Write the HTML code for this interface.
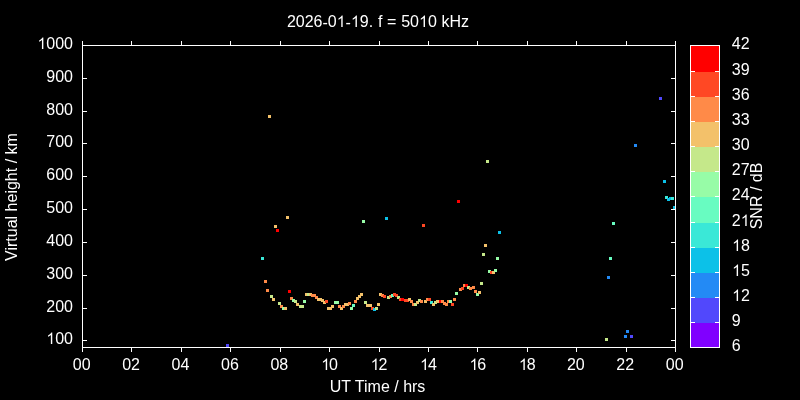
<!DOCTYPE html>
<html><head><meta charset="utf-8"><title>plot</title>
<style>
html,body{margin:0;padding:0;background:#000;}
body{width:800px;height:400px;overflow:hidden;position:relative;font-family:"Liberation Sans",sans-serif;color:#fff;font-size:16px;line-height:1;}
.t{position:absolute;white-space:nowrap;}
.yl{position:absolute;text-align:right;width:80px;white-space:nowrap;}
.xl{position:absolute;text-align:center;width:60px;white-space:nowrap;}
.cl{position:absolute;white-space:nowrap;}
svg.bg{position:absolute;left:0;top:0;}
.h{visibility:hidden;}
.hy{position:relative;top:1px;}
</style></head><body>
<svg class="bg" width="800" height="400" viewBox="0 0 800 400" shape-rendering="crispEdges">
<rect x="0" y="0" width="800" height="400" fill="#000"/>
<g>
<rect x="226" y="344" width="3" height="3" fill="#5148fc"/>
<rect x="261" y="257" width="3" height="3" fill="#3ae8d7"/>
<rect x="264" y="280" width="3" height="3" fill="#ff8a48"/>
<rect x="266" y="289" width="3" height="3" fill="#ff8a48"/>
<rect x="268" y="115" width="3" height="3" fill="#f3c16a"/>
<rect x="270" y="295" width="3" height="3" fill="#c5e88a"/>
<rect x="272" y="298" width="3" height="3" fill="#f3c16a"/>
<rect x="274" y="225" width="3" height="3" fill="#f3c16a"/>
<rect x="276" y="229" width="3" height="3" fill="#ff0000"/>
<rect x="278" y="302" width="3" height="3" fill="#c5e88a"/>
<rect x="280" y="305" width="3" height="3" fill="#ff8a48"/>
<rect x="282" y="307" width="3" height="3" fill="#97fca7"/>
<rect x="284" y="307" width="3" height="3" fill="#f3c16a"/>
<rect x="286" y="216" width="3" height="3" fill="#f3c16a"/>
<rect x="288" y="290" width="3" height="3" fill="#ff0000"/>
<rect x="290" y="297" width="3" height="3" fill="#ff8a48"/>
<rect x="292" y="299" width="3" height="3" fill="#97fca7"/>
<rect x="294" y="300" width="3" height="3" fill="#c5e88a"/>
<rect x="296" y="303" width="3" height="3" fill="#f3c16a"/>
<rect x="299" y="305" width="3" height="3" fill="#c5e88a"/>
<rect x="301" y="305" width="3" height="3" fill="#c5e88a"/>
<rect x="303" y="300" width="3" height="3" fill="#97fca7"/>
<rect x="305" y="293" width="3" height="3" fill="#f3c16a"/>
<rect x="307" y="293" width="3" height="3" fill="#c5e88a"/>
<rect x="309" y="293" width="3" height="3" fill="#f3c16a"/>
<rect x="311" y="294" width="3" height="3" fill="#ff8a48"/>
<rect x="313" y="294" width="3" height="3" fill="#ff8a48"/>
<rect x="315" y="296" width="3" height="3" fill="#ff8a48"/>
<rect x="317" y="298" width="3" height="3" fill="#f3c16a"/>
<rect x="319" y="298" width="3" height="3" fill="#f3c16a"/>
<rect x="321" y="299" width="3" height="3" fill="#f3c16a"/>
<rect x="323" y="301" width="3" height="3" fill="#f3c16a"/>
<rect x="325" y="300" width="3" height="3" fill="#ff4824"/>
<rect x="327" y="307" width="3" height="3" fill="#f3c16a"/>
<rect x="329" y="307" width="3" height="3" fill="#f3c16a"/>
<rect x="331" y="305" width="3" height="3" fill="#f3c16a"/>
<rect x="334" y="301" width="3" height="3" fill="#97fca7"/>
<rect x="336" y="301" width="3" height="3" fill="#97fca7"/>
<rect x="338" y="305" width="3" height="3" fill="#ff8a48"/>
<rect x="340" y="307" width="3" height="3" fill="#f3c16a"/>
<rect x="342" y="305" width="3" height="3" fill="#ff8a48"/>
<rect x="344" y="303" width="3" height="3" fill="#f3c16a"/>
<rect x="346" y="303" width="3" height="3" fill="#f3c16a"/>
<rect x="348" y="302" width="3" height="3" fill="#ff8a48"/>
<rect x="350" y="307" width="3" height="3" fill="#97fca7"/>
<rect x="352" y="304" width="3" height="3" fill="#68fcc1"/>
<rect x="354" y="300" width="3" height="3" fill="#ff8a48"/>
<rect x="356" y="297" width="3" height="3" fill="#f3c16a"/>
<rect x="358" y="295" width="3" height="3" fill="#f3c16a"/>
<rect x="360" y="293" width="3" height="3" fill="#f3c16a"/>
<rect x="362" y="220" width="3" height="3" fill="#97fca7"/>
<rect x="364" y="301" width="3" height="3" fill="#c5e88a"/>
<rect x="366" y="304" width="3" height="3" fill="#f3c16a"/>
<rect x="369" y="304" width="3" height="3" fill="#f3c16a"/>
<rect x="371" y="307" width="3" height="3" fill="#ff4824"/>
<rect x="373" y="308" width="3" height="3" fill="#0cc1e8"/>
<rect x="375" y="307" width="3" height="3" fill="#c5e88a"/>
<rect x="377" y="303" width="3" height="3" fill="#f3c16a"/>
<rect x="379" y="293" width="3" height="3" fill="#f3c16a"/>
<rect x="381" y="294" width="3" height="3" fill="#ff8a48"/>
<rect x="383" y="295" width="3" height="3" fill="#ff4824"/>
<rect x="385" y="217" width="3" height="3" fill="#0cc1e8"/>
<rect x="387" y="296" width="3" height="3" fill="#c5e88a"/>
<rect x="389" y="295" width="3" height="3" fill="#ff8a48"/>
<rect x="391" y="294" width="3" height="3" fill="#68fcc1"/>
<rect x="393" y="293" width="3" height="3" fill="#ff4824"/>
<rect x="395" y="294" width="3" height="3" fill="#ff4824"/>
<rect x="397" y="296" width="3" height="3" fill="#c5e88a"/>
<rect x="399" y="298" width="3" height="3" fill="#ff4824"/>
<rect x="401" y="298" width="3" height="3" fill="#ff0000"/>
<rect x="404" y="299" width="3" height="3" fill="#ff4824"/>
<rect x="406" y="299" width="3" height="3" fill="#ff4824"/>
<rect x="408" y="298" width="3" height="3" fill="#f3c16a"/>
<rect x="410" y="300" width="3" height="3" fill="#ff8a48"/>
<rect x="412" y="303" width="3" height="3" fill="#ff8a48"/>
<rect x="414" y="303" width="3" height="3" fill="#c5e88a"/>
<rect x="416" y="301" width="3" height="3" fill="#f3c16a"/>
<rect x="418" y="299" width="3" height="3" fill="#c5e88a"/>
<rect x="420" y="300" width="3" height="3" fill="#ff8a48"/>
<rect x="422" y="224" width="3" height="3" fill="#ff4824"/>
<rect x="424" y="300" width="3" height="3" fill="#f3c16a"/>
<rect x="426" y="298" width="3" height="3" fill="#ff8a48"/>
<rect x="428" y="298" width="3" height="3" fill="#ff4824"/>
<rect x="430" y="301" width="3" height="3" fill="#3ae8d7"/>
<rect x="432" y="303" width="3" height="3" fill="#f3c16a"/>
<rect x="434" y="301" width="3" height="3" fill="#c5e88a"/>
<rect x="436" y="300" width="3" height="3" fill="#f3c16a"/>
<rect x="439" y="300" width="3" height="3" fill="#ff0000"/>
<rect x="441" y="300" width="3" height="3" fill="#ff8a48"/>
<rect x="443" y="302" width="3" height="3" fill="#ff8a48"/>
<rect x="445" y="303" width="3" height="3" fill="#ff8a48"/>
<rect x="447" y="300" width="3" height="3" fill="#ff8a48"/>
<rect x="449" y="300" width="3" height="3" fill="#97fca7"/>
<rect x="451" y="303" width="3" height="3" fill="#ff4824"/>
<rect x="453" y="298" width="3" height="3" fill="#ff8a48"/>
<rect x="455" y="292" width="3" height="3" fill="#97fca7"/>
<rect x="457" y="200" width="3" height="3" fill="#ff0000"/>
<rect x="459" y="288" width="3" height="3" fill="#ff8a48"/>
<rect x="461" y="287" width="3" height="3" fill="#ff4824"/>
<rect x="463" y="284" width="3" height="3" fill="#ff8a48"/>
<rect x="465" y="284" width="3" height="3" fill="#ff0000"/>
<rect x="467" y="286" width="3" height="3" fill="#c5e88a"/>
<rect x="469" y="287" width="3" height="3" fill="#ff8a48"/>
<rect x="472" y="286" width="3" height="3" fill="#ff8a48"/>
<rect x="474" y="290" width="3" height="3" fill="#ff8a48"/>
<rect x="476" y="293" width="3" height="3" fill="#97fca7"/>
<rect x="478" y="291" width="3" height="3" fill="#f3c16a"/>
<rect x="480" y="282" width="3" height="3" fill="#c5e88a"/>
<rect x="482" y="253" width="3" height="3" fill="#c5e88a"/>
<rect x="484" y="244" width="3" height="3" fill="#f3c16a"/>
<rect x="486" y="160" width="3" height="3" fill="#c5e88a"/>
<rect x="488" y="270" width="3" height="3" fill="#97fca7"/>
<rect x="490" y="271" width="3" height="3" fill="#ff4824"/>
<rect x="492" y="271" width="3" height="3" fill="#f3c16a"/>
<rect x="494" y="269" width="3" height="3" fill="#97fca7"/>
<rect x="496" y="257" width="3" height="3" fill="#97fca7"/>
<rect x="498" y="231" width="3" height="3" fill="#0cc1e8"/>
<rect x="605" y="338" width="3" height="3" fill="#c5e88a"/>
<rect x="607" y="276" width="3" height="3" fill="#238af5"/>
<rect x="609" y="257" width="3" height="3" fill="#68fcc1"/>
<rect x="612" y="222" width="3" height="3" fill="#68fcc1"/>
<rect x="624" y="335" width="3" height="3" fill="#238af5"/>
<rect x="626" y="330" width="3" height="3" fill="#238af5"/>
<rect x="630" y="335" width="3" height="3" fill="#5148fc"/>
<rect x="634" y="144" width="3" height="3" fill="#238af5"/>
<rect x="659" y="97" width="3" height="3" fill="#5148fc"/>
<rect x="663" y="180" width="3" height="3" fill="#0cc1e8"/>
<rect x="665" y="196" width="3" height="3" fill="#3ae8d7"/>
<rect x="667" y="198" width="3" height="3" fill="#0cc1e8"/>
<rect x="669" y="197" width="3" height="3" fill="#0cc1e8"/>
<rect x="671" y="197" width="3" height="3" fill="#3ae8d7"/>
<rect x="673" y="206" width="3" height="3" fill="#0cc1e8"/>
</g>
<g>
<rect x="690" y="323" width="30" height="25" fill="#8000ff"/>
<rect x="690" y="298" width="30" height="25" fill="#5148fc"/>
<rect x="690" y="273" width="30" height="25" fill="#238af5"/>
<rect x="690" y="248" width="30" height="25" fill="#0cc1e8"/>
<rect x="690" y="223" width="30" height="25" fill="#3ae8d7"/>
<rect x="690" y="197" width="30" height="26" fill="#68fcc1"/>
<rect x="690" y="172" width="30" height="25" fill="#97fca7"/>
<rect x="690" y="147" width="30" height="25" fill="#c5e88a"/>
<rect x="690" y="122" width="30" height="25" fill="#f3c16a"/>
<rect x="690" y="97" width="30" height="25" fill="#ff8a48"/>
<rect x="690" y="72" width="30" height="25" fill="#ff4824"/>
<rect x="690" y="46" width="30" height="26" fill="#ff0000"/>
</g>
<g fill="#fff">
<rect x="690" y="45" width="30" height="1"/>
<rect x="690" y="347" width="30" height="1"/>
<rect x="690" y="45" width="1" height="303"/>
<rect x="719" y="45" width="1" height="303"/>
<rect x="691" y="347" width="4" height="1"/>
<rect x="715" y="347" width="4" height="1"/>
<rect x="691" y="322" width="4" height="1"/>
<rect x="715" y="322" width="4" height="1"/>
<rect x="691" y="297" width="4" height="1"/>
<rect x="715" y="297" width="4" height="1"/>
<rect x="691" y="272" width="4" height="1"/>
<rect x="715" y="272" width="4" height="1"/>
<rect x="691" y="247" width="4" height="1"/>
<rect x="715" y="247" width="4" height="1"/>
<rect x="691" y="222" width="4" height="1"/>
<rect x="715" y="222" width="4" height="1"/>
<rect x="691" y="196" width="4" height="1"/>
<rect x="715" y="196" width="4" height="1"/>
<rect x="691" y="171" width="4" height="1"/>
<rect x="715" y="171" width="4" height="1"/>
<rect x="691" y="146" width="4" height="1"/>
<rect x="715" y="146" width="4" height="1"/>
<rect x="691" y="121" width="4" height="1"/>
<rect x="715" y="121" width="4" height="1"/>
<rect x="691" y="96" width="4" height="1"/>
<rect x="715" y="96" width="4" height="1"/>
<rect x="691" y="71" width="4" height="1"/>
<rect x="715" y="71" width="4" height="1"/>
<rect x="691" y="45" width="4" height="1"/>
<rect x="715" y="45" width="4" height="1"/>
<rect x="82" y="45" width="594" height="1"/>
<rect x="82" y="347" width="594" height="1"/>
<rect x="82" y="45" width="1" height="303"/>
<rect x="675" y="45" width="1" height="303"/>
<rect x="82" y="348" width="1" height="4"/>
<rect x="82" y="41" width="1" height="4"/>
<rect x="131" y="348" width="1" height="4"/>
<rect x="131" y="41" width="1" height="4"/>
<rect x="181" y="348" width="1" height="4"/>
<rect x="181" y="41" width="1" height="4"/>
<rect x="230" y="348" width="1" height="4"/>
<rect x="230" y="41" width="1" height="4"/>
<rect x="280" y="348" width="1" height="4"/>
<rect x="280" y="41" width="1" height="4"/>
<rect x="329" y="348" width="1" height="4"/>
<rect x="329" y="41" width="1" height="4"/>
<rect x="379" y="348" width="1" height="4"/>
<rect x="379" y="41" width="1" height="4"/>
<rect x="428" y="348" width="1" height="4"/>
<rect x="428" y="41" width="1" height="4"/>
<rect x="477" y="348" width="1" height="4"/>
<rect x="477" y="41" width="1" height="4"/>
<rect x="527" y="348" width="1" height="4"/>
<rect x="527" y="41" width="1" height="4"/>
<rect x="576" y="348" width="1" height="4"/>
<rect x="576" y="41" width="1" height="4"/>
<rect x="626" y="348" width="1" height="4"/>
<rect x="626" y="41" width="1" height="4"/>
<rect x="675" y="348" width="1" height="4"/>
<rect x="675" y="41" width="1" height="4"/>
<rect x="83" y="340" width="4" height="1"/>
<rect x="671" y="340" width="4" height="1"/>
<rect x="83" y="308" width="4" height="1"/>
<rect x="671" y="308" width="4" height="1"/>
<rect x="83" y="275" width="4" height="1"/>
<rect x="671" y="275" width="4" height="1"/>
<rect x="83" y="242" width="4" height="1"/>
<rect x="671" y="242" width="4" height="1"/>
<rect x="83" y="209" width="4" height="1"/>
<rect x="671" y="209" width="4" height="1"/>
<rect x="83" y="176" width="4" height="1"/>
<rect x="671" y="176" width="4" height="1"/>
<rect x="83" y="143" width="4" height="1"/>
<rect x="671" y="143" width="4" height="1"/>
<rect x="83" y="111" width="4" height="1"/>
<rect x="671" y="111" width="4" height="1"/>
<rect x="83" y="78" width="4" height="1"/>
<rect x="671" y="78" width="4" height="1"/>
<rect x="83" y="45" width="4" height="1"/>
<rect x="671" y="45" width="4" height="1"/>
</g>
<g fill="#fff" shape-rendering="geometricPrecision">
<path transform="translate(336.703,27.000) scale(0.0078125,-0.0078125)" d="M763 0H583V1147Q518 1085 412.5 1023T223 930V1104Q374 1175 487 1276T647 1472H763Z"/>
<path transform="translate(350.938,27.000) scale(0.0078125,-0.0078125)" d="M763 0H583V1147Q518 1085 412.5 1023T223 930V1104Q374 1175 487 1276T647 1472H763Z"/>
<path transform="translate(419.016,27.000) scale(0.0078125,-0.0078125)" d="M763 0H583V1147Q518 1085 412.5 1023T223 930V1104Q374 1175 487 1276T647 1472H763Z"/>
<path transform="translate(46.297,344.000) scale(0.0078125,-0.0078125)" d="M763 0H583V1147Q518 1085 412.5 1023T223 930V1104Q374 1175 487 1276T647 1472H763Z"/>
<path transform="translate(37.391,49.000) scale(0.0078125,-0.0078125)" d="M763 0H583V1147Q518 1085 412.5 1023T223 930V1104Q374 1175 487 1276T647 1472H763Z"/>
<path transform="translate(321.172,370.000) scale(0.0078125,-0.0078125)" d="M763 0H583V1147Q518 1085 412.5 1023T223 930V1104Q374 1175 487 1276T647 1472H763Z"/>
<path transform="translate(370.594,370.000) scale(0.0078125,-0.0078125)" d="M763 0H583V1147Q518 1085 412.5 1023T223 930V1104Q374 1175 487 1276T647 1472H763Z"/>
<path transform="translate(420.000,370.000) scale(0.0078125,-0.0078125)" d="M763 0H583V1147Q518 1085 412.5 1023T223 930V1104Q374 1175 487 1276T647 1472H763Z"/>
<path transform="translate(469.422,370.000) scale(0.0078125,-0.0078125)" d="M763 0H583V1147Q518 1085 412.5 1023T223 930V1104Q374 1175 487 1276T647 1472H763Z"/>
<path transform="translate(518.844,370.000) scale(0.0078125,-0.0078125)" d="M763 0H583V1147Q518 1085 412.5 1023T223 930V1104Q374 1175 487 1276T647 1472H763Z"/>
<path transform="translate(732.094,301.000) scale(0.0078125,-0.0078125)" d="M763 0H583V1147Q518 1085 412.5 1023T223 930V1104Q374 1175 487 1276T647 1472H763Z"/>
<path transform="translate(732.094,276.000) scale(0.0078125,-0.0078125)" d="M763 0H583V1147Q518 1085 412.5 1023T223 930V1104Q374 1175 487 1276T647 1472H763Z"/>
<path transform="translate(732.094,251.000) scale(0.0078125,-0.0078125)" d="M763 0H583V1147Q518 1085 412.5 1023T223 930V1104Q374 1175 487 1276T647 1472H763Z"/>
<path transform="translate(740.703,226.000) scale(0.0078125,-0.0078125)" d="M763 0H583V1147Q518 1085 412.5 1023T223 930V1104Q374 1175 487 1276T647 1472H763Z"/>
</g>
</svg>
<div id="txt" style="position:absolute;left:0;top:0;width:800px;height:400px;will-change:transform;">
<div class="t" id="title" style="left:178px;width:400px;text-align:center;top:14px;word-spacing:0.3px;">2026<span class="hy">-</span>0<span class="h">1</span><span class="hy">-</span><span class="h">1</span>9. f = 50<span class="h">1</span>0 kHz</div>
<div class="yl" style="left:-7.0px;top:331.2px;"><span class="h">1</span>00</div>
<div class="yl" style="left:-7.0px;top:299.2px;">200</div>
<div class="yl" style="left:-7.0px;top:266.2px;">300</div>
<div class="yl" style="left:-7.0px;top:233.2px;">400</div>
<div class="yl" style="left:-7.0px;top:200.2px;">500</div>
<div class="yl" style="left:-7.0px;top:167.2px;">600</div>
<div class="yl" style="left:-7.0px;top:134.2px;">700</div>
<div class="yl" style="left:-7.0px;top:102.2px;">800</div>
<div class="yl" style="left:-7.0px;top:69.2px;">900</div>
<div class="yl" style="left:-7.0px;top:36.2px;"><span class="h">1</span>000</div>
<div class="xl" style="left:51.70px;top:356.50px;">00</div>
<div class="xl" style="left:101.12px;top:356.50px;">02</div>
<div class="xl" style="left:150.53px;top:356.50px;">04</div>
<div class="xl" style="left:199.95px;top:356.50px;">06</div>
<div class="xl" style="left:249.37px;top:356.50px;">08</div>
<div class="xl" style="left:299.08px;top:356.50px;"><span class="h">1</span>0</div>
<div class="xl" style="left:348.50px;top:356.50px;"><span class="h">1</span>2</div>
<div class="xl" style="left:397.92px;top:356.50px;"><span class="h">1</span>4</div>
<div class="xl" style="left:447.33px;top:356.50px;"><span class="h">1</span>6</div>
<div class="xl" style="left:496.75px;top:356.50px;"><span class="h">1</span>8</div>
<div class="xl" style="left:545.87px;top:356.50px;">20</div>
<div class="xl" style="left:595.28px;top:356.50px;">22</div>
<div class="xl" style="left:644.70px;top:356.50px;">00</div>
<div class="t" id="xlabel" style="left:177.5px;width:400px;text-align:center;top:379px;">UT Time / hrs</div>
<div class="t" id="ylabel" style="left:12px;top:198px;width:0;height:0;"><div style="position:absolute;left:-150px;width:300px;top:-9px;text-align:center;transform:rotate(-90deg);transform-origin:50% 50%;">Virtual height / km</div></div>
<div class="cl" style="left:731.8px;top:338.2px;">6</div>
<div class="cl" style="left:731.8px;top:313.2px;">9</div>
<div class="cl" style="left:732.1px;top:288.2px;"><span class="h">1</span>2</div>
<div class="cl" style="left:732.1px;top:263.2px;"><span class="h">1</span>5</div>
<div class="cl" style="left:732.1px;top:238.2px;"><span class="h">1</span>8</div>
<div class="cl" style="left:731.8px;top:213.2px;">2<span class="h">1</span></div>
<div class="cl" style="left:731.8px;top:187.2px;">24</div>
<div class="cl" style="left:731.8px;top:162.2px;">27</div>
<div class="cl" style="left:731.8px;top:137.2px;">30</div>
<div class="cl" style="left:731.8px;top:112.2px;">33</div>
<div class="cl" style="left:731.8px;top:87.2px;">36</div>
<div class="cl" style="left:731.8px;top:62.2px;">39</div>
<div class="cl" style="left:731.8px;top:36.2px;">42</div>
<div class="t" id="cblabel" style="left:756.5px;top:197px;width:0;height:0;"><div style="position:absolute;left:-150px;width:300px;top:-9px;text-align:center;transform:rotate(-90deg);transform-origin:50% 50%;">SNR / dB</div></div>
</div>
</body></html>
